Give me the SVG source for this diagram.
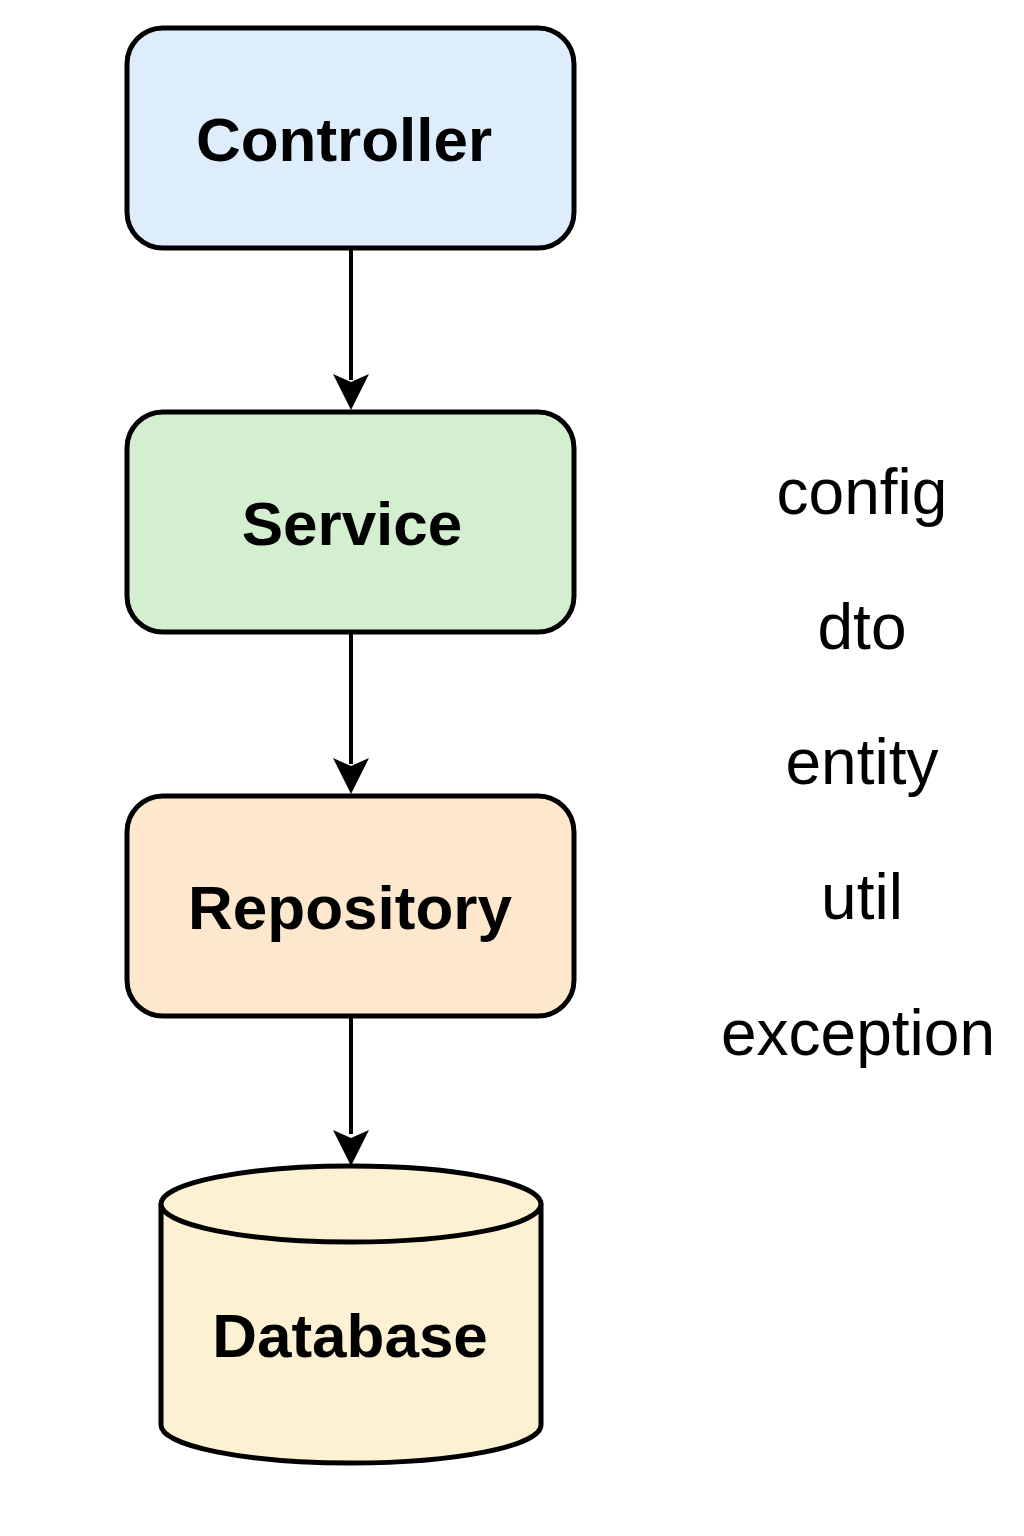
<svg xmlns="http://www.w3.org/2000/svg" width="1024" height="1536" viewBox="0 0 1024 1536">
<defs>
<style>
.box{stroke:#000;stroke-width:5}
.lbl{font-family:"Liberation Sans",Arial,sans-serif;font-weight:bold;font-size:62px;fill:#000;text-anchor:middle}
.pkg{font-family:"Liberation Sans",Arial,sans-serif;font-size:64px;fill:#000;text-anchor:middle}
.edge{stroke:#000;stroke-width:4;fill:none}
</style>
</defs>
<rect width="1024" height="1536" fill="#fff"/>
<g id="connectors">
<line class="edge" x1="351" y1="250" x2="351" y2="380"/>
<path d="M333,374 L351,410 L369,374 L351,382 z" fill="#000"/>
<line class="edge" x1="351" y1="634" x2="351" y2="764"/>
<path d="M333,758 L351,794 L369,758 L351,766 z" fill="#000"/>
<line class="edge" x1="351" y1="1018" x2="351" y2="1134"/>
<path d="M333,1130 L351,1166 L369,1130 L351,1138 z" fill="#000"/>
</g>
<g id="controller">
<rect class="box" x="127" y="28" width="447" height="220" rx="36" fill="#deedfc"/>
<text class="lbl" x="344" y="161">Controller</text>
</g>
<g id="service">
<rect class="box" x="127" y="412" width="447" height="220" rx="36" fill="#d3efcf"/>
<text class="lbl" x="352" y="545">Service</text>
</g>
<g id="repository">
<rect class="box" x="127" y="796" width="447" height="220" rx="36" fill="#fde8cd"/>
<text class="lbl" x="350" y="929">Repository</text>
</g>
<g id="database">
<path class="box" d="M161,1204 L161,1425 A190,38 0 0 0 541,1425 L541,1204" fill="#fdf1d3"/>
<ellipse class="box" cx="351" cy="1204" rx="190" ry="38" fill="#fdf1d3"/>
<text class="lbl" x="350" y="1357">Database</text>
</g>
<g id="packages">
<text class="pkg" x="862" y="514">config</text>
<text class="pkg" x="862" y="649">dto</text>
<text class="pkg" x="862" y="784">entity</text>
<text class="pkg" x="862" y="919">util</text>
<text class="pkg" x="858" y="1055">exception</text>
</g>
</svg>
